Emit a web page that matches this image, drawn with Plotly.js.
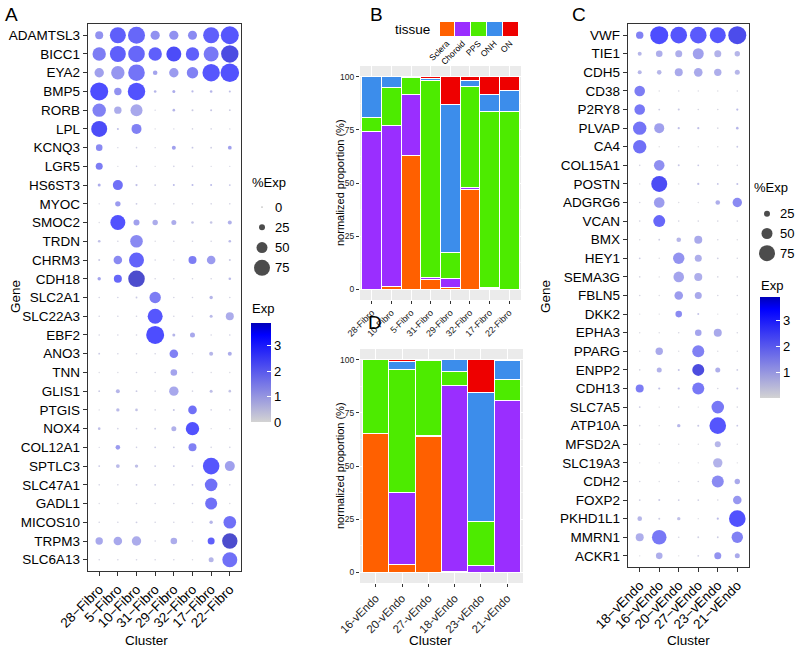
<!DOCTYPE html>
<html>
<head>
<meta charset="utf-8">
<script src="https://cdn.plot.ly/plotly-3.0.1.min.js"></script>
<style>
  body { margin: 0; background: #fff; }
  #plot { width: 798px; height: 649px; }
</style>
</head>
<body>
<div id="plot"></div>
<script>
// ---- panel A: fibroblast cluster markers ----
const clustersA = ['28−Fibro', '5−Fibro', '10−Fibro', '31−Fibro', '29−Fibro', '32−Fibro', '17−Fibro', '22−Fibro'];
const genesA = ['ADAMTSL3', 'BICC1', 'EYA2', 'BMP5', 'RORB', 'LPL', 'KCNQ3', 'LGR5', 'HS6ST3', 'MYOC',
  'SMOC2', 'TRDN', 'CHRM3', 'CDH18', 'SLC2A1', 'SLC22A3', 'EBF2', 'ANO3', 'TNN', 'GLIS1',
  'PTGIS', 'NOX4', 'COL12A1', 'SPTLC3', 'SLC47A1', 'GADL1', 'MICOS10', 'TRPM3', 'SLC6A13'];
const pctA = [
  [35, 75, 80, 41, 41, 40, 75, 85],
  [62, 75, 78, 62, 70, 62, 70, 82],
  [42, 62, 78, 18, 42, 52, 82, 88],
  [85, 32, 82, 8, 10, 6, 8, 5],
  [62, 32, 55, 2, 8, 5, 5, 4],
  [75, 5, 45, 2, 2, 3, 3, 2],
  [28, 2, 3, 2, 15, 4, 4, 14],
  [30, 2, 3, 2, 3, 3, 2, 2],
  [10, 45, 6, 4, 5, 5, 5, 4],
  [2, 22, 4, 3, 3, 3, 3, 3],
  [2, 70, 25, 22, 20, 8, 8, 15],
  [8, 3, 58, 2, 3, 3, 3, 8],
  [5, 38, 70, 3, 3, 35, 38, 5],
  [12, 35, 78, 3, 3, 3, 3, 8],
  [3, 3, 4, 52, 3, 3, 12, 3],
  [3, 3, 3, 70, 3, 3, 10, 35],
  [3, 3, 3, 85, 10, 20, 3, 3],
  [4, 3, 3, 3, 38, 2, 15, 15],
  [2, 2, 3, 3, 28, 3, 2, 2],
  [4, 15, 4, 3, 42, 3, 10, 8],
  [2, 12, 8, 3, 5, 38, 3, 3],
  [8, 3, 3, 4, 20, 62, 2, 2],
  [2, 18, 3, 4, 4, 35, 3, 3],
  [4, 14, 12, 4, 4, 4, 78, 45],
  [3, 3, 4, 4, 3, 4, 58, 3],
  [2, 2, 3, 3, 3, 3, 55, 2],
  [3, 3, 4, 3, 3, 3, 12, 58],
  [32, 38, 42, 3, 28, 3, 30, 72],
  [3, 3, 3, 3, 3, 2, 20, 70]
];
const expA = [
  [1.8, 3.0, 2.8, 1.8, 1.8, 2.0, 3.0, 3.2],
  [2.3, 3.0, 2.8, 3.0, 3.5, 3.0, 2.4, 3.7],
  [1.5, 1.7, 2.5, 1.4, 1.6, 2.2, 3.2, 3.3],
  [3.4, 1.8, 3.3, 1.0, 1.2, 0.9, 1.0, 0.8],
  [2.2, 1.2, 1.3, 0.3, 1.0, 0.5, 0.6, 0.4],
  [3.5, 0.8, 2.2, 0.2, 0.3, 0.3, 0.3, 0.3],
  [2.0, 0.3, 0.4, 0.3, 1.5, 0.6, 0.4, 1.5],
  [2.3, 0.2, 0.5, 0.2, 0.4, 0.3, 0.2, 0.3],
  [1.2, 2.6, 0.8, 0.5, 0.9, 0.9, 0.9, 0.6],
  [0.3, 1.6, 0.5, 0.3, 0.3, 0.3, 0.3, 0.3],
  [0.2, 3.3, 1.5, 1.2, 1.2, 0.7, 0.6, 1.1],
  [0.8, 0.3, 2.0, 0.2, 0.3, 0.3, 0.3, 0.9],
  [0.5, 2.0, 2.9, 0.3, 0.3, 2.3, 1.6, 0.5],
  [1.4, 2.8, 3.9, 0.3, 0.3, 0.3, 0.3, 0.9],
  [0.3, 0.4, 0.5, 2.3, 0.3, 0.3, 1.0, 0.3],
  [0.3, 0.3, 0.3, 3.2, 0.3, 0.3, 0.9, 1.2],
  [0.3, 0.3, 0.3, 3.4, 1.0, 1.3, 0.3, 0.4],
  [0.5, 0.3, 0.3, 0.3, 2.2, 0.2, 1.0, 1.2],
  [0.2, 0.2, 0.3, 0.3, 1.4, 0.3, 0.2, 0.2],
  [0.5, 1.0, 0.5, 0.3, 1.3, 0.3, 0.8, 0.7],
  [0.2, 0.9, 0.7, 0.3, 0.6, 2.6, 0.4, 0.3],
  [0.8, 0.4, 0.4, 0.5, 1.1, 3.3, 0.2, 0.3],
  [0.3, 1.6, 0.4, 0.5, 0.5, 2.2, 0.3, 0.3],
  [0.5, 0.9, 0.8, 0.5, 0.6, 0.5, 3.2, 1.5],
  [0.3, 0.3, 0.5, 0.5, 0.4, 0.5, 2.6, 0.3],
  [0.2, 0.2, 0.3, 0.3, 0.3, 0.4, 2.6, 0.2],
  [0.3, 0.3, 0.4, 0.3, 0.3, 0.3, 1.0, 2.6],
  [1.3, 1.3, 1.2, 0.3, 1.2, 0.3, 3.0, 3.9],
  [0.3, 0.3, 0.3, 0.3, 0.3, 0.2, 1.0, 2.6]
];

// ---- panel C: endothelial cluster markers ----
const clustersC = ['18−vEndo', '16−vEndo', '20−vEndo', '27−vEndo', '23−vEndo', '21−vEndo'];
const genesC = ['VWF', 'TIE1', 'CDH5', 'CD38', 'P2RY8', 'PLVAP', 'CA4', 'COL15A1', 'POSTN', 'ADGRG6',
  'VCAN', 'BMX', 'HEY1', 'SEMA3G', 'FBLN5', 'DKK2', 'EPHA3', 'PPARG', 'ENPP2', 'CDH13',
  'SLC7A5', 'ATP10A', 'MFSD2A', 'SLC19A3', 'CDH2', 'FOXP2', 'PKHD1L1', 'MMRN1', 'ACKR1'];
const pctC = [
  [32, 85, 78, 78, 75, 85],
  [15, 28, 30, 50, 30, 22],
  [15, 18, 35, 38, 32, 20],
  [48, 2, 3, 2, 2, 3],
  [48, 4, 5, 3, 3, 6],
  [62, 45, 6, 6, 3, 8],
  [62, 2, 3, 2, 2, 4],
  [3, 48, 5, 4, 3, 3],
  [2, 75, 2, 6, 4, 5],
  [3, 48, 2, 2, 18, 42],
  [3, 55, 3, 3, 3, 3],
  [2, 4, 18, 35, 3, 2],
  [4, 2, 52, 30, 4, 3],
  [3, 2, 48, 35, 3, 3],
  [3, 2, 38, 30, 3, 3],
  [2, 2, 28, 5, 2, 2],
  [2, 2, 3, 28, 35, 3],
  [2, 32, 2, 55, 2, 2],
  [3, 20, 5, 55, 20, 4],
  [35, 6, 6, 55, 3, 5],
  [4, 2, 3, 2, 58, 3],
  [3, 2, 12, 5, 78, 4],
  [2, 2, 2, 2, 25, 2],
  [2, 2, 2, 2, 42, 2],
  [3, 2, 3, 3, 55, 22],
  [4, 5, 4, 4, 3, 38],
  [18, 5, 12, 2, 6, 78],
  [35, 68, 3, 4, 4, 52],
  [2, 28, 2, 4, 30, 20]
];
const expC = [
  [2.2, 3.4, 3.2, 3.1, 3.2, 3.6],
  [1.0, 1.2, 1.2, 1.5, 1.1, 1.0],
  [1.0, 1.0, 1.3, 1.3, 1.2, 1.0],
  [2.3, 0.2, 0.3, 0.2, 0.2, 0.3],
  [2.4, 0.5, 0.6, 0.3, 0.3, 0.9],
  [2.5, 1.5, 0.8, 0.8, 0.3, 1.0],
  [2.6, 0.1, 0.3, 0.2, 0.2, 0.6],
  [0.3, 1.9, 0.6, 0.6, 0.3, 0.3],
  [0.2, 3.5, 0.2, 0.8, 0.7, 0.8],
  [0.3, 1.6, 0.2, 0.2, 1.2, 2.0],
  [0.3, 2.8, 0.3, 0.3, 0.3, 0.3],
  [0.2, 0.5, 1.0, 1.3, 0.3, 0.2],
  [0.5, 0.2, 1.8, 1.2, 0.4, 0.3],
  [0.3, 0.2, 1.4, 1.2, 0.3, 0.3],
  [0.3, 0.2, 1.6, 1.3, 0.3, 0.3],
  [0.2, 0.2, 2.0, 0.7, 0.2, 0.2],
  [0.2, 0.2, 0.3, 1.4, 1.3, 0.3],
  [0.2, 1.3, 0.2, 2.2, 0.2, 0.2],
  [0.3, 1.1, 0.7, 3.7, 1.2, 0.5],
  [2.3, 0.8, 0.9, 2.4, 0.3, 0.7],
  [0.5, 0.2, 0.3, 0.2, 2.4, 0.3],
  [0.3, 0.2, 1.0, 0.6, 3.2, 0.6],
  [0.2, 0.2, 0.2, 0.2, 1.0, 0.2],
  [0.2, 0.2, 0.2, 0.2, 1.1, 0.2],
  [0.3, 0.2, 0.3, 0.3, 2.0, 1.3],
  [0.4, 0.6, 0.5, 0.4, 0.3, 1.7],
  [1.0, 0.5, 0.8, 0.2, 0.9, 3.3],
  [1.2, 2.4, 0.3, 0.4, 0.5, 2.2],
  [0.2, 1.2, 0.1, 0.4, 1.8, 1.3]
];

// ---- panels B and D: tissue proportions ----
const tissues = ['Sclera', 'Choroid', 'PPS', 'ONH', 'ON'];
const tissueColors = ['#FF6000', '#9A2EFF', '#4DEB00', '#3C8DEB', '#EE0000'];
const clustersB = ['28-Fibro', '10-Fibro', '5-Fibro', '31-Fibro', '29-Fibro', '32-Fibro', '17-Fibro', '22-Fibro'];
const propB = [  // rows follow tissues
  [0, 1.4, 63, 4.7, 1.1, 47.1, 0.6, 0],
  [74.4, 75.5, 28.4, 0.8, 4.2, 0.6, 0.1, 0],
  [6.6, 18.1, 8.1, 92.6, 11.8, 47.7, 82.8, 83.4],
  [19, 5, 0.3, 0.9, 69.7, 3.0, 8.2, 10.0],
  [0, 0, 0.2, 1.0, 13.2, 1.6, 8.3, 6.6]
];
const clustersD = ['16-vEndo', '20-vEndo', '27-vEndo', '18-vEndo', '23-vEndo', '21-vEndo'];
const propD = [
  [65.4, 3.8, 63.7, 0.5, 0, 0],
  [0, 33.9, 0.5, 87.4, 3.1, 80.9],
  [34.6, 57.6, 35.3, 6.3, 20.8, 9.9],
  [0, 3.7, 0.5, 5.8, 60.8, 8.9],
  [0, 1.0, 0, 0, 15.3, 0.3]
];

const sizeKeysA = ['0', '25', '50', '75'];
const sizeKeysC = ['25', '50', '75'];

// ---- helpers ----
const W = 798, H = 649;
const px = x => x / W;
const py = y => 1 - y / H;
const dx = (a, b) => [px(a), px(b)];
const dy = (top, bottom) => [py(bottom), py(top)];
const dotSize = p => 1 + 0.2 * p;   // diameter in px for %Exp
const FONT = 'Liberation Sans, Arial, Helvetica, sans-serif';
const expScale = [[0, '#D3D3D3'], [0.88, '#0000FF'], [1, '#0000B8']];

function dotTrace(genes, clusters, pct, exp, ax, ay, cbar, cmin, cmax) {
  const x = [], y = [], s = [], c = [];
  genes.forEach((g, i) => clusters.forEach((cl, j) => {
    x.push(cl); y.push(g); s.push(dotSize(pct[i][j])); c.push(exp[i][j]);
  }));
  return {
    type: 'scatter', mode: 'markers', x, y, xaxis: ax, yaxis: ay, showlegend: false,
    marker: { size: s, color: c, colorscale: expScale, cmin, cmax, line: { width: 0 },
      showscale: true, colorbar: cbar },
    hoverinfo: 'x+y'
  };
}

function colorbar(left, top, len, tickvals) {
  return {
    x: px(left), xanchor: 'left', y: py(top), yanchor: 'top',
    len, lenmode: 'pixels', thickness: 20, thicknessmode: 'pixels',
    xpad: 0, ypad: 0, outlinewidth: 0,
    ticks: 'inside', ticklen: 4, tickcolor: 'white', tickwidth: 1,
    tickvals, tickfont: { size: 13, family: FONT, color: '#000' }
  };
}

const traces = [];
traces.push(dotTrace(genesA, clustersA, pctA, expA, 'x', 'y', colorbar(251, 323, 99, [0, 1, 2, 3]), 0, 3.9));
traces.push(dotTrace(genesC, clustersC, pctC, expC, 'x4', 'y4', colorbar(760, 297, 101, [1, 2, 3]), 0.05, 3.87));

tissues.forEach((t, k) => {
  traces.push({ type: 'bar', name: t, x: clustersB, y: propB[k], xaxis: 'x2', yaxis: 'y2', showlegend: false,
    marker: { color: tissueColors[k], line: { color: 'white', width: 1 } } });
  traces.push({ type: 'bar', name: t, x: clustersD, y: propD[k], xaxis: 'x3', yaxis: 'y3', showlegend: false,
    marker: { color: tissueColors[k], line: { color: 'white', width: 1 } } });
});

// tissue legend swatches
traces.push({ type: 'bar', x: tissues, y: tissues.map(() => 1), xaxis: 'x7', yaxis: 'y7', showlegend: false,
  marker: { color: tissueColors, line: { color: 'white', width: 1 } }, hoverinfo: 'x' });

// %Exp size keys
traces.push({ type: 'scatter', mode: 'markers', x: sizeKeysA.map(() => 0), y: sizeKeysA, xaxis: 'x5', yaxis: 'y5',
  showlegend: false, marker: { color: 'black', size: sizeKeysA.map(v => dotSize(+v)), line: { width: 0 } }, hoverinfo: 'skip' });
traces.push({ type: 'scatter', mode: 'markers', x: sizeKeysC.map(() => 0), y: sizeKeysC, xaxis: 'x6', yaxis: 'y6',
  showlegend: false, marker: { color: 'black', size: sizeKeysC.map(v => dotSize(+v)), line: { width: 0 } }, hoverinfo: 'skip' });

// axis styles
const dotX = (dom, cats, anchor) => ({
  domain: dom, anchor, type: 'category', categoryorder: 'array', categoryarray: cats,
  range: [-0.6, cats.length - 0.4], showline: true, mirror: true, linecolor: '#333', linewidth: 1.3,
  ticks: 'outside', ticklen: 4, tickcolor: '#333', tickangle: -45, showgrid: false, zeroline: false,
  tickfont: { size: 13.5, family: FONT, color: '#000' }
});
const dotY = (dom, cats, anchor) => ({
  domain: dom, anchor, type: 'category', categoryorder: 'array', categoryarray: cats,
  range: [cats.length - 0.4, -0.6], showline: true, mirror: true, linecolor: '#333', linewidth: 1.3,
  ticks: 'outside', ticklen: 4, tickcolor: '#333', showgrid: false, zeroline: false,
  tickfont: { size: 13.5, family: FONT, color: '#000' }
});
const barX = (dom, cats, anchor, fs) => ({
  domain: dom, anchor, type: 'category', categoryorder: 'array', categoryarray: cats,
  range: [-0.6, cats.length - 0.4], showgrid: true, gridcolor: 'white', gridwidth: 1,
  ticks: 'outside', ticklen: 3, tickcolor: '#333', tickangle: -45, showline: false, zeroline: false,
  tickfont: { size: fs, family: FONT, color: '#222' }
});
const barY = (dom, anchor) => ({
  domain: dom, anchor, range: [-5, 105], tickvals: [0, 25, 50, 75, 100],
  showgrid: true, gridcolor: 'white', gridwidth: 1,
  minor: { showgrid: true, gridcolor: 'white', gridwidth: 0.5, dtick: 12.5, tick0: 0 },
  ticks: 'outside', ticklen: 3, tickcolor: '#333', showline: false, zeroline: false,
  tickfont: { size: 8.5, family: FONT, color: '#222' }
});
const keyY = (dom, cats, anchor) => ({
  domain: dom, anchor, type: 'category', categoryorder: 'array', categoryarray: cats,
  range: [cats.length - 0.5, -0.5], side: 'right', showline: false, showgrid: false, zeroline: false,
  ticks: '', tickfont: { size: 13, family: FONT, color: '#000' }
});
const hidden = (dom, anchor, range) => ({
  domain: dom, anchor, range, showline: false, showgrid: false, zeroline: false, showticklabels: false, ticks: ''
});

function ann(text, x, y, size, extra) {
  return Object.assign({ text, x: px(x), y: py(y), xref: 'paper', yref: 'paper', showarrow: false,
    xanchor: 'center', yanchor: 'middle',
    font: { size, family: FONT, color: '#000' } }, extra || {});
}

const annotations = [
  ann('A', 3, 15, 19, { xanchor: 'left' }),
  ann('B', 368, 15, 19, { xanchor: 'left' }),
  ann('C', 570, 15, 19, { xanchor: 'left' }),
  ann('D', 366, 322, 19, { xanchor: 'left' }),
  ann('Gene', 15, 297, 13.5, { textangle: -90 }),
  ann('Cluster', 146, 640, 13.5),
  ann('Gene', 545, 297, 13.5, { textangle: -90 }),
  ann('Cluster', 688, 640, 13.5),
  ann('Cluster', 430, 640, 13.5),
  ann('normalized proportion (%)', 340, 183, 11, { textangle: -90 }),
  ann('normalized proportion (%)', 340, 466, 11, { textangle: -90 }),
  ann('tissue', 412, 30, 13.5),
  ann('%Exp', 250, 183, 13, { xanchor: 'left' }),
  ann('Exp', 250, 308, 13, { xanchor: 'left' }),
  ann('%Exp', 752, 188, 13, { xanchor: 'left' }),
  ann('Exp', 759, 285, 13, { xanchor: 'left' })
];

const panelBg = (ax, ay) => ({ type: 'rect', xref: ax + ' domain', yref: ay + ' domain', x0: 0, x1: 1, y0: 0, y1: 1,
  fillcolor: '#EBEBEB', line: { width: 0 }, layer: 'below' });

const layout = {
  width: W, height: H, autosize: false,
  margin: { l: 0, r: 0, t: 0, b: 0 },
  paper_bgcolor: 'white', plot_bgcolor: 'rgba(0,0,0,0)',
  font: { family: FONT, color: '#000' },
  barmode: 'stack', bargap: 0,
  showlegend: false,
  xaxis: dotX(dx(88, 241), clustersA, 'y'),
  yaxis: dotY(dy(24, 571), genesA, 'x'),
  xaxis2: barX(dx(360, 521), clustersB, 'y2', 9),
  yaxis2: barY(dy(66, 300), 'x2'),
  xaxis3: barX(dx(360, 523), clustersD, 'y3', 11.5),
  yaxis3: barY(dy(349, 583), 'x3'),
  xaxis4: dotX(dx(628, 749), clustersC, 'y4'),
  yaxis4: dotY(dy(24, 567), genesC, 'x4'),
  xaxis5: hidden(dx(250, 274), 'y5', [-1, 1]),
  yaxis5: keyY(dy(197, 278), sizeKeysA, 'x5'),
  xaxis6: hidden(dx(755, 779), 'y6', [-1, 1]),
  yaxis6: keyY(dy(204, 263), sizeKeysC, 'x6'),
  xaxis7: {
    domain: dx(439, 518), anchor: 'y7', type: 'category', categoryorder: 'array', categoryarray: tissues,
    range: [-0.5, 4.5], showgrid: false, showline: false, zeroline: false, ticks: '', tickangle: -45,
    tickfont: { size: 8.5, family: FONT, color: '#000' }
  },
  yaxis7: hidden(dy(21, 36), 'x7', [0, 1]),
  shapes: [panelBg('x2', 'y2'), panelBg('x3', 'y3')],
  annotations
};

Plotly.newPlot('plot', traces, layout, { displayModeBar: false, staticPlot: true });
</script>
</body>
</html>
